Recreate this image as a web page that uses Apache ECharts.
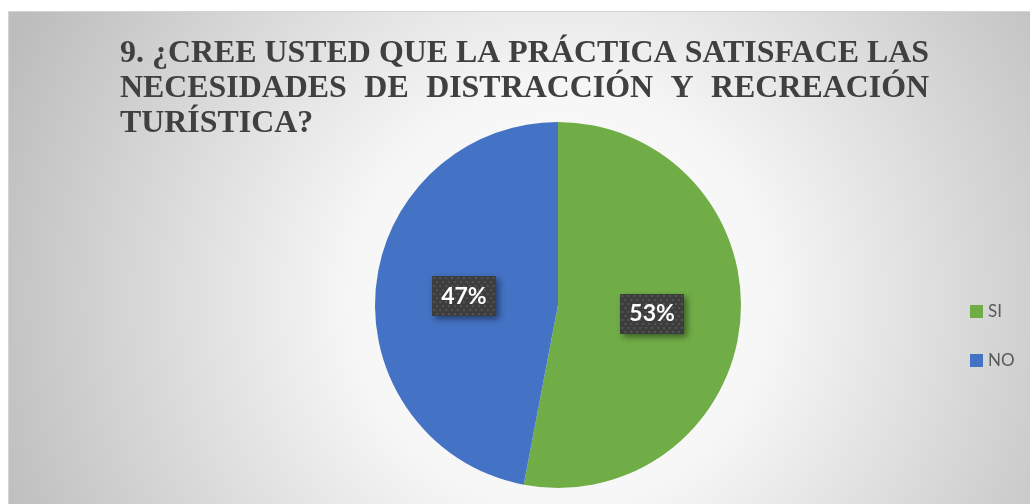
<!DOCTYPE html>
<html>
<head>
<meta charset="utf-8">
<script src="https://cdn.jsdelivr.net/npm/echarts@6/dist/echarts.min.js"></script>
<style>
  html, body { margin: 0; padding: 0; background: #fff; }
  #chart { width: 1030px; height: 504px; }
</style>
</head>
<body>
<div id="chart"></div>
<script>
// datos de la pregunta 9
const categories = ['SI', 'NO'];
const values = [53, 47];
const sliceColors = ['#70ad47', '#4472c4'];
const titleLines = [
  '9. ¿CREE USTED QUE LA PRÁCTICA SATISFACE LAS',
  'NECESIDADES DE DISTRACCIÓN Y RECREACIÓN',
  'TURÍSTICA?'
];

const titleLeft = 120, titleRight = 929;
const ctx = document.createElement('canvas').getContext('2d');
// tamaño de letra para que la primera línea llene el ancho
ctx.font = 'bold 100px "Liberation Serif"';
const titleSize = Math.floor(100 * (titleRight - titleLeft) / ctx.measureText(titleLines[0]).width * 10) / 10;
const titleFont = 'bold ' + titleSize + 'px "Liberation Serif", "Times New Roman", serif';
ctx.font = titleFont;

// texto justificado como en Word
function titleLine(text, y, justify) {
  const base = { font: titleFont, fill: '#404040', textVerticalAlign: 'middle', verticalAlign: 'middle' };
  if (!justify) {
    return [{ type: 'text', x: titleLeft, y: y, z: 10, style: Object.assign({ text: text }, base) }];
  }
  const words = text.split(' ');
  const widths = words.map(w => ctx.measureText(w).width);
  const total = widths.reduce((a, b) => a + b, 0);
  const gap = (titleRight - titleLeft - total) / (words.length - 1);
  let x = titleLeft;
  return words.map((w, i) => {
    const el = { type: 'text', x: x, y: y, z: 10, style: Object.assign({ text: w }, base) };
    x += widths[i] + gap;
    return el;
  });
}

// fondo punteado de las etiquetas
function labelPattern() {
  const c = document.createElement('canvas');
  c.width = 64; c.height = 40;
  const g = c.getContext('2d');
  g.fillStyle = '#3d3d3d';
  g.fillRect(0, 0, 64, 40);
  g.fillStyle = '#555555';
  for (let y = 1, r = 0; y < 40; y += 4, r++) {
    for (let x = (r % 2) * 3 + 1; x < 64; x += 6) g.fillRect(x, y, 2, 2);
  }
  return c;
}

const myChart = echarts.init(document.getElementById('chart'));
myChart.setOption({
  animation: false,
  graphic: [
    {
      type: 'rect',
      z: -10,
      shape: { x: 8.5, y: 11.5, width: 1040, height: 510 },
      style: {
        fill: new echarts.graphic.RadialGradient(560, 300, 600, [
          { offset: 0, color: '#ffffff' },
          { offset: 0.35, color: '#f6f6f6' },
          { offset: 1, color: '#bdbdbd' }
        ], true),
        stroke: '#d4d4d4',
        lineWidth: 1
      }
    }
  ]
    .concat(titleLine(titleLines[0], 54, true))
    .concat(titleLine(titleLines[1], 89, true))
    .concat(titleLine(titleLines[2], 124, false)),
  legend: {
    orient: 'vertical',
    left: 965,
    top: 298,
    itemWidth: 13,
    itemHeight: 13,
    itemGap: 32,
    icon: 'rect',
    data: categories,
    textStyle: { color: '#595959', fontSize: 17, fontFamily: 'Lato, "Open Sans", sans-serif' }
  },
  series: [
    {
      type: 'pie',
      center: [558, 305],
      radius: 183,
      startAngle: 90,
      clockwise: true,
      label: {
        show: true,
        position: 'inside',
        formatter: '{c}%',
        color: '#ffffff',
        fontWeight: 'bold',
        fontSize: 23,
        fontFamily: 'Lato, "Open Sans", sans-serif',
        backgroundColor: { image: labelPattern() },
        padding: [9, 9, 8, 9],
        shadowColor: 'rgba(0,0,0,0.45)',
        shadowBlur: 6,
        shadowOffsetX: 3,
        shadowOffsetY: 3
      },
      labelLine: { show: false },
      emphasis: { disabled: true },
      itemStyle: { borderWidth: 0 },
      data: categories.map((name, i) => ({
        name: name,
        value: values[i],
        itemStyle: { color: sliceColors[i] }
      }))
    }
  ]
});
window.addEventListener('resize', () => {
  myChart.resize();
});
</script>
</body>
</html>
